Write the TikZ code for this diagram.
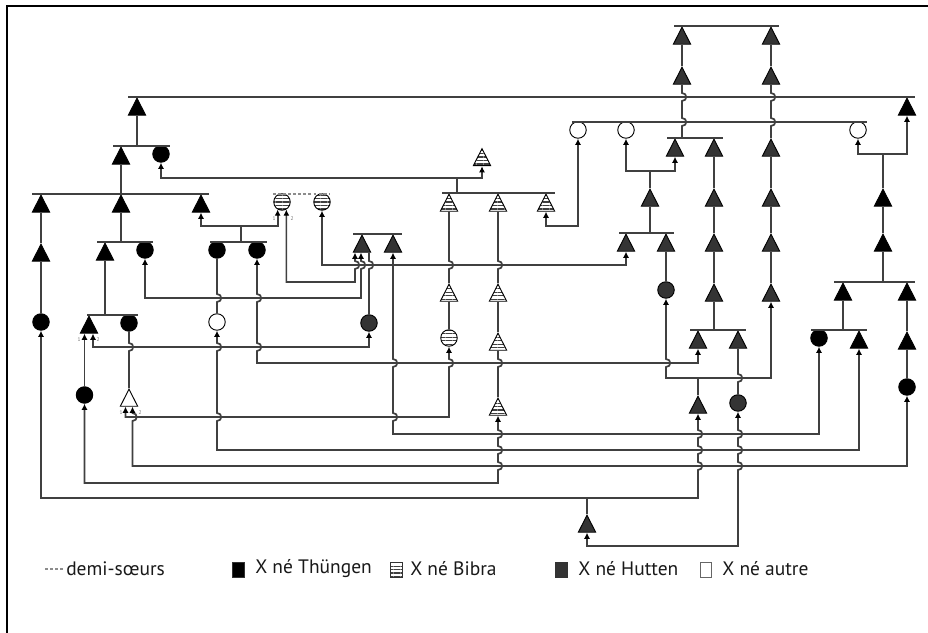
\documentclass[tikz,border=0pt]{standalone}
\usepackage{fontspec}
\setmainfont{PT Sans}
\usetikzlibrary{shapes.geometric,arrows.meta,calc,patterns.meta}
\definecolor{hut}{HTML}{343434}
\definecolor{lin}{HTML}{404040}
\newcommand\bmpd[2]{-- (#1,#2-4) .. controls +(5.6,0) and +(5.6,0) .. (#1,#2+4)}
\newcommand\bmpu[2]{-- (#1,#2+4) .. controls +(5.6,0) and +(5.6,0) .. (#1,#2-4)}
\tikzset{
  sym/.style={draw=black, line width=0.7pt, inner sep=0pt},
  tri/.style={sym, isosceles triangle, shape border rotate=90, isosceles triangle stretches,
              minimum width=13pt, minimum height=12.75pt, anchor=apex},
  circ/.style={sym, circle, minimum size=12.4pt},
  th/.style={fill=black},
  hu/.style={fill=hut},
  bi/.style={preaction={fill=white}, pattern={Lines[angle=0,distance=2.6pt,line width=0.95pt]}, pattern color=black!75},
  au/.style={fill=white},
  ln/.style={draw=lin, line width=1.3pt},
  tip/.style={},
  arb/.style={ln, {Latex[length=4.6pt,width=4.6pt,color=black]}-{Latex[length=4.6pt,width=4.6pt,color=black]}},
  ars/.style={ln, {Latex[length=4.6pt,width=4.6pt,color=black]}-},
  dsh/.style={draw=black!45, line width=0.9pt, dash pattern=on 2.2pt off 1.6pt},
  lab/.style={font=\fontsize{4}{4}\selectfont, text=black!55, inner sep=0pt},
  leg/.style={font=\fontsize{14.6}{16}\selectfont, anchor=west, inner sep=0pt, text=black!90},
  legbox/.style={draw=black!80, line width=0.6pt, minimum width=8.6pt, minimum height=11.2pt, inner sep=0pt},
}
\begin{document}
\begin{tikzpicture}[x=0.75pt,y=-0.75pt]
\useasboundingbox (0,0) rectangle (928,632);
\fill[white] (0,0) rectangle (928,632);
\draw[line width=1.2pt] (7,640) -- (7,6) -- (935,6);

% ---------- nodes: Thuengen (black)
\node[tri,th] (A1) at (137,97) {};
\node[tri,th] (B1) at (121,146) {};
\node[circ,th] (B2) at (161,154) {};
\node[tri,th] (C1) at (41,194) {};
\node[tri,th] (C2) at (121,194) {};
\node[tri,th] (C3) at (201,194) {};
\node[tri,th] (C1b) at (41,243) {};
\node[circ,th] (C1c) at (41,322) {};
\node[tri,th] (Z1) at (105,242) {};
\node[circ,th] (Z2) at (145,250) {};
\node[circ,th] (D1) at (217,250) {};
\node[circ,th] (D2) at (257,250) {};
\node[tri,th] (Y1) at (89,315) {};
\node[circ,th] (Y2) at (129,323) {};
\node[circ,th] (X) at (84.5,395) {};
\node[tri,th] (N) at (907,97) {};
\node[tri,th] (O1) at (883,188) {};
\node[tri,th] (O2) at (883,233) {};
\node[tri,th] (U1) at (843,282) {};
\node[tri,th] (U2) at (907,282) {};
\node[circ,th] (T1) at (819,338) {};
\node[tri,th] (T2) at (859,330) {};
\node[tri,th] (U2b) at (907,331) {};
\node[circ,th] (U2c) at (907,387) {};
% ---------- Hutten (dark grey)
\node[tri,hu] (E1) at (362,234) {};
\node[tri,hu] (E2) at (393,234) {};
\node[circ,hu] (E3) at (369,323) {};
\node[tri,hu] (F1) at (682,26) {};
\node[tri,hu] (F2) at (771,26) {};
\node[tri,hu] (G1) at (682,66) {};
\node[tri,hu] (G2) at (771,66) {};
\node[tri,hu] (H1) at (675,138) {};
\node[tri,hu] (H2) at (714,138) {};
\node[tri,hu] (H3) at (771,138) {};
\node[tri,hu] (K) at (650,188) {};
\node[tri,hu] (H2b) at (714,188) {};
\node[tri,hu] (H2c) at (714,233) {};
\node[tri,hu] (H2d) at (714,283) {};
\node[tri,hu] (H3b) at (771,188) {};
\node[tri,hu] (H3c) at (771,233) {};
\node[tri,hu] (H3d) at (771,283) {};
\node[tri,hu] (L1) at (626,233) {};
\node[tri,hu] (L2) at (666,233) {};
\node[circ,hu] (M) at (666,290) {};
\node[tri,hu] (P1) at (698,330) {};
\node[tri,hu] (P2) at (738,330) {};
\node[tri,hu] (S) at (698,395) {};
\node[circ,hu] (Q) at (738,403) {};
\node[tri,hu] (R) at (587,514) {};
% ---------- Bibra (striped)
\node[tri,bi] (Btop) at (482,147) {};
\node[tri,bi] (J1) at (449,193) {};
\node[tri,bi] (J2) at (498,193) {};
\node[tri,bi] (J3) at (546,193) {};
\node[tri,bi] (J1b) at (449,283) {};
\node[circ,bi] (J1c) at (449,338) {};
\node[tri,bi] (J2b) at (498,283) {};
\node[tri,bi] (J2c) at (498,332) {};
\node[tri,bi] (J2d) at (498,397) {};
\node[circ,bi] (Bi1) at (282,202) {};
\node[circ,bi] (Bi2) at (322,202) {};
% ---------- autre (white)
\node[circ,au] (V) at (217,322) {};
\node[circ,au] (I1) at (578,130) {};
\node[circ,au] (I2) at (626,130) {};
\node[circ,au] (I3) at (858,130) {};
\node[tri,au] (W) at (129,388) {};

% ---------- sibling / marriage lines
\draw[ln] (128,97) -- (915,97);
\draw[ln] (113,146) -- (170,146);
\draw[ln] (32,194) -- (209,194);
\draw[dsh] (273,194) -- (330,194);
\draw[ln] (97,242) -- (153,242);
\draw[ln] (210,242) -- (267,242);
\draw[ln] (353,234) -- (402,234);
\draw[ln] (87,315) -- (138,315);
\draw[ln] (442,193) -- (555,193);
\draw[ln] (572,122) -- (867,122);
\draw[ln] (674,26) -- (779,26);
\draw[ln] (667,138) -- (723,138);
\draw[ln] (619,233) -- (674,233);
\draw[ln] (690,330) -- (746,330);
\draw[ln] (834,282) -- (915,282);
\draw[ln] (811,330) -- (867,330);

% ---------- descent lines
\draw[ln] (A1.lower side) -- (137,146);
\draw[ln] (B1.lower side) -- (121,194);
\draw[ln] (C2.lower side) -- (121,242);
\draw[ln] (C1.lower side) -- (C1b.apex);
\draw[ln] (C1b.lower side) -- (C1c.north);
\draw[ln] (Z1.lower side) -- (105,315);
\draw[ln] (457,178) -- (457,193);
\draw[ln] (241,226) -- (241,242);
\draw[ln] (F1.lower side) -- (G1.apex);
\draw[ln] (F2.lower side) -- (G2.apex);
\draw[ln] (G1.lower side) \bmpd{682}{97} \bmpd{682}{122} -- (682,138);
\draw[ln] (G2.lower side) \bmpd{771}{97} \bmpd{771}{122} -- (H3.apex);
\draw[ln] (650,171) -- (K.apex);
\draw[ln] (K.lower side) -- (650,233);
\draw[ln] (L2.lower side) -- (M.north);
\draw[ln] (H2.lower side) -- (H2b.apex);
\draw[ln] (H2b.lower side) -- (H2c.apex);
\draw[ln] (H2c.lower side) -- (H2d.apex);
\draw[ln] (H2d.lower side) -- (714,330);
\draw[ln] (H3.lower side) -- (H3b.apex);
\draw[ln] (H3b.lower side) -- (H3c.apex);
\draw[ln] (H3c.lower side) -- (H3d.apex);
\draw[ln] (P2.lower side) \bmpd{738}{378} -- (Q.north);
\draw[ln] (698,378) -- (S.apex);
\draw[ln] (587,498) -- (R.apex);
\draw[ln] (883,154) -- (O1.apex);
\draw[ln] (O1.lower side) -- (O2.apex);
\draw[ln] (O2.lower side) -- (883,282);
\draw[ln] (U1.lower side) -- (843,330);
\draw[ln] (U2.lower side) -- (U2b.apex);
\draw[ln] (U2b.lower side) -- (U2c.north);
\draw[ln] (J1.lower side) \bmpd{449}{265} -- (J1b.apex);
\draw[ln] (J1b.lower side) -- (J1c.north);
\draw[ln] (J2.lower side) \bmpd{498}{265} -- (J2b.apex);
\draw[ln] (J2b.lower side) -- (J2c.apex);
\draw[ln] (J2c.lower side) \bmpd{498}{363} -- (J2d.apex);
\draw[ln] (D1.south) \bmpd{217}{298} -- (V.north);
\draw[ln] (Y2.south) \bmpd{129}{347} -- (W.apex);
\draw[ln] ($(E1.lower side)+(7,0)$) \bmpd{369}{265} -- (E3.north);
\draw[ars] ($(Y1.lower side)+(-4.5,0)$) -- (X.north);

% ---------- alliance connectors (arrow into each spouse)
\draw[arb] (B2.south) |- (457,178) -| (Btop.lower side);
\draw[arb] (C3.lower side) |- (241,226) -| (Bi1.-120);
\draw[arb] (Bi1.-60) |- (320,282) -- (355,282) \bmpu{355}{265} -- ($(E1.lower side)+(-7,0)$);
\draw[arb] (Bi2.south) |- (450,265) -| (L1.lower side);
\draw[arb] (Z2.south) |- (300,298) -- (361,298) \bmpu{361}{265} -- ($(E1.lower side)+(-1,0)$);
\draw[arb] (D2.south) \bmpd{257}{298} \bmpd{257}{347} -- (257,363) -| (P1.lower side);
\draw[arb] (I1.south) |- (560,226) -| (J3.lower side);
\draw[arb] (I2.south) |- (650,171) -| (H1.lower side);
\draw[arb] (I3.south) |- (883,154) -| (N.lower side);
\draw[arb] (M.south) \bmpd{666}{363} -- (666,378) -| (H3d.lower side);
\draw[arb] ($(Y1.lower side)+(4,0)$) -- (93,347) -| (E3.south);
\draw[arb] ($(W.lower side)+(-3.5,0)$) -- (125.5,417) -- (449,417) \bmpu{449}{363} -- (J1c.south);
\draw[arb] (V.south) \bmpd{217}{347} \bmpd{217}{417} -- (217,450) -| (T2.lower side);
\draw[arb] (E2.lower side) \bmpd{393}{363} \bmpd{393}{417} -- (393,434) -| (T1.south);
\draw[arb] ($(W.lower side)+(3.5,0)$) \bmpd{132.5}{417} -- (132.5,466) -| (U2c.south);
\draw[arb] (X.south) -- (84.5,483) -- (498,483) \bmpu{498}{466} \bmpu{498}{450} \bmpu{498}{434} -- (J2d.lower side);
\draw[arb] (C1c.south) -- (41,498) -- (698,498) \bmpu{698}{466} \bmpu{698}{450} \bmpu{698}{434} -- (S.lower side);
\draw[arb] (R.lower side) -- (587,546) -- (738,546) \bmpu{738}{466} \bmpu{738}{450} \bmpu{738}{434} -- (Q.south);

% ---------- small order labels
\node[lab] (l1a) at (274,219) {1};
\node[lab] (l1b) at (292,219) {2};
\node[lab] (l2a) at (79,340) {1};
\node[lab] (l2b) at (98,340) {2};
\node[lab] (l3a) at (121,413) {1};
\node[lab] (l3b) at (140,413) {2};

% ---------- legend
\draw[dsh] (45,569) -- (63,569);
\node[leg] (t0) at (66,569) {demi-sœurs};
\node[legbox,fill=black] (k1) at (238.5,570) {};
\node[leg] (t1) at (255,569) {X né Thüngen};
\node[legbox,bi] (k2) at (396.5,570) {};
\node[leg] (t2) at (410,569) {X né Bibra};
\node[legbox,fill=hut] (k3) at (561.5,570) {};
\node[leg] (t3) at (578,569) {X né Hutten};
\node[legbox,fill=white,draw=black!60] (k4) at (706,570) {};
\node[leg] (t4) at (722,569) {X né autre};
\end{tikzpicture}
\end{document}
